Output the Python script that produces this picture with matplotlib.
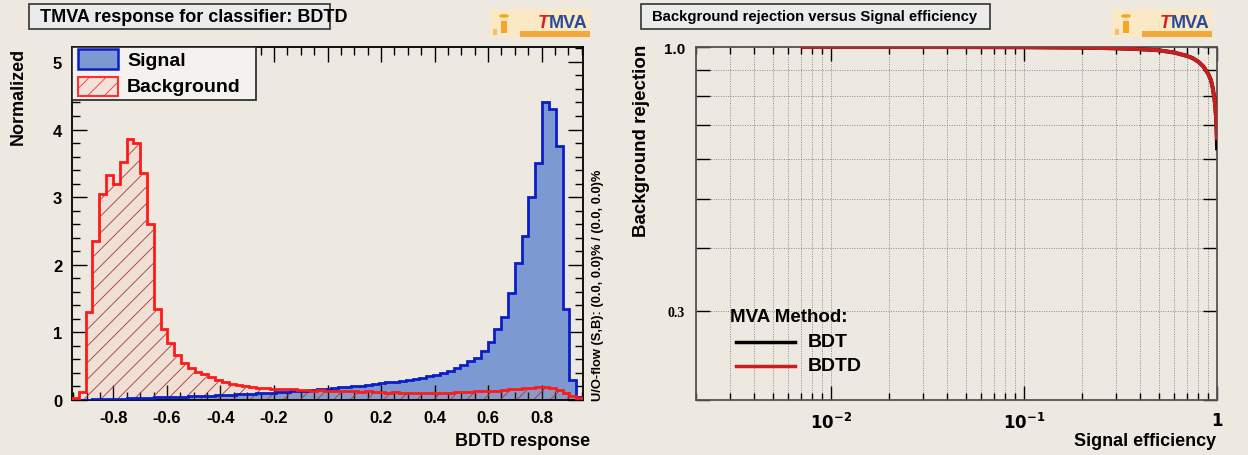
import numpy as np
import matplotlib
matplotlib.use("Agg")
import matplotlib.pyplot as plt
from matplotlib.patches import Rectangle, Circle
from matplotlib.ticker import FixedLocator, FixedFormatter, MultipleLocator, NullFormatter

plt.rcParams['font.family'] = ['Liberation Sans', 'DejaVu Sans']
plt.rcParams['font.weight'] = 'bold'
plt.rcParams['hatch.linewidth'] = 0.6

# --- data -----------------------------------------------------------
x_range = (-0.955, 0.955)
n_bins = 75

sig_vals = [0.0, 0.0, 0.005, 0.01, 0.01, 0.015, 0.02, 0.02, 0.025, 0.03,
            0.03, 0.035, 0.04, 0.04, 0.045, 0.05, 0.05, 0.055, 0.06, 0.06,
            0.065, 0.07, 0.075, 0.08, 0.085, 0.09, 0.095, 0.10, 0.105, 0.11,
            0.115, 0.12, 0.13, 0.135, 0.14, 0.15, 0.16, 0.17, 0.175, 0.185,
            0.19, 0.20, 0.21, 0.22, 0.235, 0.245, 0.26, 0.27, 0.28, 0.29,
            0.31, 0.33, 0.35, 0.37, 0.40, 0.43, 0.47, 0.52, 0.57, 0.62,
            0.72, 0.86, 1.05, 1.23, 1.58, 2.02, 2.42, 3.0, 3.5, 4.4,
            4.3, 3.75, 1.35, 0.3, 0.05]

bkg_vals = [0.03, 0.12, 1.3, 2.35, 3.05, 3.32, 3.2, 3.52, 3.86, 3.8,
            3.35, 2.6, 1.34, 1.05, 0.85, 0.66, 0.55, 0.47, 0.42, 0.38,
            0.34, 0.30, 0.27, 0.24, 0.22, 0.20, 0.19, 0.18, 0.18, 0.17,
            0.17, 0.16, 0.16, 0.15, 0.15, 0.14, 0.15, 0.14, 0.14, 0.13,
            0.14, 0.13, 0.12, 0.13, 0.12, 0.12, 0.11, 0.12, 0.11, 0.11,
            0.11, 0.10, 0.11, 0.10, 0.11, 0.11, 0.12, 0.12, 0.12, 0.13,
            0.13, 0.13, 0.14, 0.15, 0.16, 0.17, 0.18, 0.18, 0.19, 0.19,
            0.18, 0.15, 0.10, 0.06, 0.03]

x_ticks = [-0.8, -0.6, -0.4, -0.2, 0, 0.2, 0.4, 0.6, 0.8]
x_ticklabels = ['-0.8', '-0.6', '-0.4', '-0.2', '0', '0.2', '0.4', '0.6', '0.8']

roc_eff = [0.0072, 0.01, 0.02, 0.05, 0.1, 0.2, 0.3, 0.4, 0.5, 0.6, 0.7,
           0.75, 0.8, 0.85, 0.9, 0.93, 0.95, 0.97, 0.98, 0.99, 0.995, 1.0]
bdtd_rej = [1.0, 1.0, 1.0, 0.9995, 0.999, 0.997, 0.994, 0.99, 0.985, 0.975,
            0.96, 0.95, 0.935, 0.915, 0.885, 0.86, 0.83, 0.79, 0.76, 0.72,
            0.69, 0.66]
bdt_rej = [1.0, 1.0, 1.0, 0.9995, 0.999, 0.997, 0.994, 0.99, 0.985, 0.975,
           0.96, 0.95, 0.935, 0.915, 0.885, 0.86, 0.83, 0.79, 0.76, 0.72,
           0.68, 0.63]

rej_ticks = [0.2, 0.3, 0.4, 0.5, 0.6, 0.7, 0.8, 0.9, 1.0]
rej_ticklabels = ['', '0.3', '', '', '', '', '', '', '1.0']

# --- figure ---------------------------------------------------------
W, H = 1248, 456
bg = '#ede9e0'
fig = plt.figure(figsize=(W / 100, H / 100), dpi=100, facecolor=bg)


def fx(x):
    return x / W


def fy(y):
    return 1 - y / H


def rect(x0, y0, x1, y1, **kw):
    fig.add_artist(Rectangle((fx(x0), fy(y1)), fx(x1) - fx(x0), fy(y0) - fy(y1),
                             transform=fig.transFigure, **kw))


def logo(x0, y0):
    # rough TMVA logo
    rect(x0, y0, x0 + 100, y0 + 28, fc='#fbe8c4', ec='none')
    rect(x0 + 30, y0 + 22, x0 + 100, y0 + 28, fc='#f2a93b', ec='none')
    fig.add_artist(Circle((fx(x0 + 14), fy(y0 + 7)), 5 / W, transform=fig.transFigure,
                          fc='#f5a623', ec='none'))
    rect(x0 + 11, y0 + 12, x0 + 17, y0 + 24, fc='#f5a623', ec='none')
    rect(x0 + 3, y0 + 20, x0 + 7, y0 + 26, fc='#f0c070', ec='none')
    fig.text(fx(x0 + 48), fy(y0 + 14), 'T', color='#d42020', fontsize=13,
             style='italic', ha='left', va='center')
    fig.text(fx(x0 + 59), fy(y0 + 14), 'MVA', color='#2a4a9a', fontsize=13,
             ha='left', va='center')


# --- left panel: classifier response --------------------------------
ax1 = fig.add_axes([fx(72), fy(401), fx(583) - fx(72), fy(48) - fy(401)])
ax1.set_facecolor(bg)
edges = np.linspace(x_range[0], x_range[1], n_bins + 1)

ax1.stairs(sig_vals, edges, fill=True, color='#7d99d1', zorder=1)
ax1.stairs(bkg_vals, edges, fill=True, facecolor=(1, 0.6, 0.5, 0.12),
           edgecolor='#a03a3a', hatch='//', linewidth=0, zorder=2)
ax1.stairs(sig_vals, edges, color='#0a1ec8', linewidth=2, zorder=3)
ax1.stairs(bkg_vals, edges, color='#ff1a1a', linewidth=2, zorder=4)

ax1.set_xlim(x_range)
ax1.set_ylim(0, 5.22)
ax1.set_xticks(x_ticks)
ax1.set_xticklabels(x_ticklabels)
ax1.xaxis.set_minor_locator(MultipleLocator(0.05))
ax1.yaxis.set_major_locator(MultipleLocator(1))
ax1.yaxis.set_minor_locator(MultipleLocator(0.2))
ax1.tick_params(which='both', direction='in', top=True, right=True, labelsize=12,
                width=1)
ax1.tick_params(which='major', length=11, pad=7)
ax1.tick_params(which='minor', length=5.5)
for s in ax1.spines.values():
    s.set_linewidth(1.3)

# legend box
rect(72, 48, 256, 101, fc='#f3f2ef', ec='#222222', lw=1.2, zorder=5)
rect(78, 50, 118, 70, fc='#7d99d1', ec='#0a1ec8', lw=1.8, zorder=6)
rect(78, 78, 118, 97, fc='#f5e0dc', ec='#ff3030', lw=1.5, hatch='//', zorder=6)
fig.text(fx(127), fy(61), 'Signal', fontsize=14, va='center', zorder=7)
fig.text(fx(127), fy(87), 'Background', fontsize=14, va='center', zorder=7)

# titles and labels
rect(29, 5, 330, 30, fc='#ebebeb', ec='#333333', lw=1.2)
fig.text(fx(40), fy(17.5), 'TMVA response for classifier: BDTD', fontsize=13,
         va='center', ha='left')
fig.text(fx(18), fy(48), 'Normalized', rotation=90, fontsize=13, va='top', ha='center')
fig.text(fx(590), fy(442), 'BDTD response', fontsize=13, va='center', ha='right')
fig.text(fx(598), fy(401), 'U/O-flow (S,B): (0.0, 0.0)% / (0.0, 0.0)%', rotation=90,
         fontsize=9.3, va='bottom', ha='center')
logo(490, 10)

# --- right panel: ROC ------------------------------------------------
ax2 = fig.add_axes([fx(696), fy(401), fx(1217) - fx(696), fy(48) - fy(401)])
ax2.set_facecolor(bg)
ax2.plot(roc_eff, bdt_rej, color='black', linewidth=2.8, zorder=3)
ax2.plot(roc_eff, bdtd_rej, color='#c81e1e', linewidth=2.8, zorder=4)
ax2.set_xscale('log')
ax2.set_yscale('log')
ax2.set_xlim(0.002, 1)
ax2.set_ylim(0.2, 1.0)
ax2.xaxis.set_major_locator(FixedLocator([0.01, 0.1, 1]))
ax2.xaxis.set_major_formatter(FixedFormatter([r'$\mathbf{10^{-2}}$', r'$\mathbf{10^{-1}}$',
                                              r'$\mathbf{1}$']))
ax2.xaxis.set_minor_formatter(NullFormatter())
ax2.yaxis.set_major_locator(FixedLocator(rej_ticks))
ax2.yaxis.set_major_formatter(FixedFormatter(rej_ticklabels))
ax2.yaxis.set_minor_locator(FixedLocator([]))
ax2.yaxis.set_minor_formatter(NullFormatter())
ax2.grid(True, which='both', linestyle=(0, (1, 1.5)), color='#8a8a8a', linewidth=0.7)
ax2.tick_params(which='both', direction='in', top=True, right=True, labelsize=12, width=1)
ax2.tick_params(which='major', length=10, pad=8)
ax2.tick_params(which='minor', length=5)
for lab in ax2.get_yticklabels():
    if lab.get_text() == '0.3':
        lab.set_fontfamily('Liberation Serif')
        lab.set_fontsize(10)
    else:
        lab.set_fontsize(11)
for s in ax2.spines.values():
    s.set_linewidth(1.3)
    s.set_color('#555555')

rect(641, 5, 990, 30, fc='#ebebeb', ec='#333333', lw=1.2)
fig.text(fx(652), fy(17.5), 'Background rejection versus Signal efficiency', fontsize=10.7,
         va='center', ha='left')
fig.text(fx(642), fy(45), 'Background rejection', rotation=90, fontsize=13.5,
         va='top', ha='center')
fig.text(fx(1216), fy(442), 'Signal efficiency', fontsize=13, va='center', ha='right')
logo(1112, 10)

# ROC legend
fig.text(fx(730), fy(318), 'MVA Method:', fontsize=13.5, va='center', ha='left')
fig.add_artist(plt.Line2D([fx(736), fx(795)], [fy(343), fy(343)], color='black', lw=2.5,
                          transform=fig.transFigure))
fig.add_artist(plt.Line2D([fx(736), fx(795)], [fy(367), fy(367)], color='#c81e1e', lw=2.5,
                          transform=fig.transFigure))
fig.text(fx(808), fy(343), 'BDT', fontsize=14, va='center', ha='left')
fig.text(fx(808), fy(367), 'BDTD', fontsize=14, va='center', ha='left')

fig.savefig('out.png', dpi=100, facecolor=bg)
